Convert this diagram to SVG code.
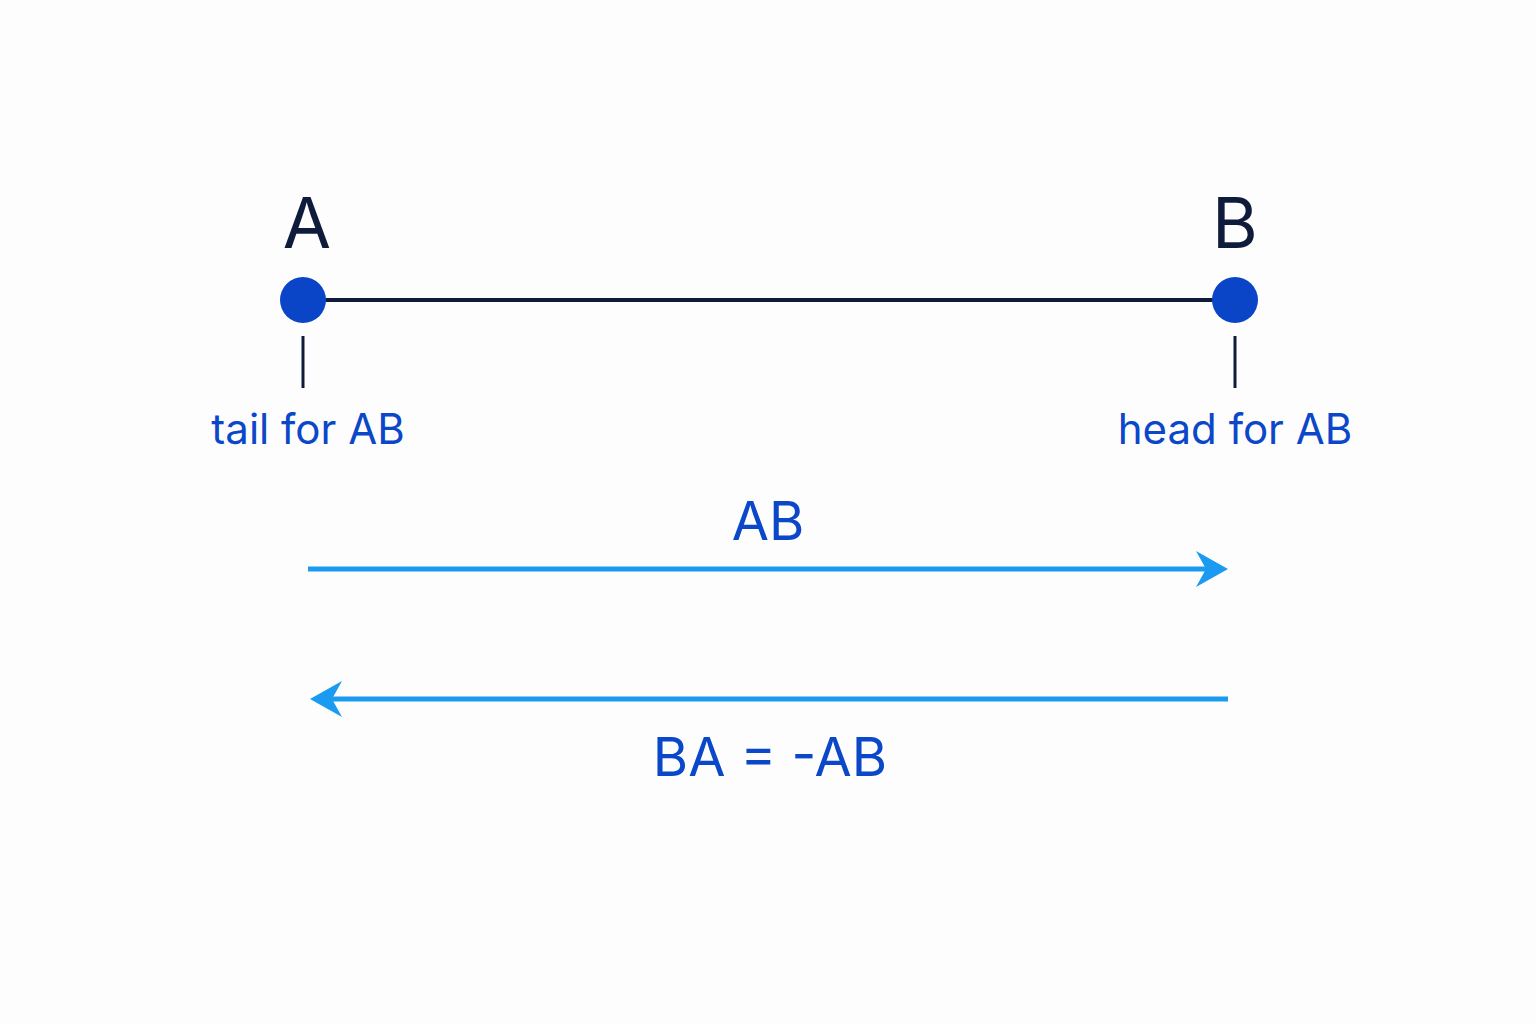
<svg xmlns="http://www.w3.org/2000/svg" width="1536" height="1024" viewBox="0 0 1536 1024">
<style>
.pt{font-family:"Inter","Liberation Sans",sans-serif;font-size:70px;fill:#0f1b3a;text-anchor:middle}
.lb{font-family:"Inter","Liberation Sans",sans-serif;font-size:42px;fill:#0a47c9;text-anchor:middle}
.vl{font-family:"Inter","Liberation Sans",sans-serif;font-size:54px;fill:#0a47c9;text-anchor:middle}
.dot{fill:#0a45c8}
.tick{stroke:#0f1b3a;stroke-width:3}
.vec{stroke:#1a9af0;stroke-width:5}
.head{fill:#1a9af0}
</style>
<rect width="1536" height="1024" fill="#fdfdfd"/>
<g id="connectors">
<line x1="303" y1="300" x2="1235" y2="300" stroke="#0f1b3a" stroke-width="4"/>
<line class="tick" x1="303" y1="336" x2="303" y2="388"/>
<line class="tick" x1="1235" y1="336" x2="1235" y2="388"/>
<g id="vecAB">
<line class="vec" x1="308" y1="569" x2="1210" y2="569"/>
<path class="head" d="M1228,569 L1196,551 L1206,569 L1196,587 Z"/>
</g>
<g id="vecBA">
<line class="vec" x1="1228" y1="699" x2="326" y2="699"/>
<path class="head" d="M310,699 L342,681 L332,699 L342,717 Z"/>
</g>
</g>
<g id="nodeA">
<circle class="dot" cx="303" cy="300" r="23"/>
<text class="pt" x="307" y="248">A</text>
<text class="lb" x="308" y="444">tail for AB</text>
</g>
<g id="nodeB">
<circle class="dot" cx="1235" cy="300" r="23"/>
<text class="pt" x="1235" y="248">B</text>
<text class="lb" x="1235" y="444">head for AB</text>
</g>
<text class="vl" x="768" y="540">AB</text>
<text class="vl" x="770" y="776">BA = -AB</text>
</svg>
